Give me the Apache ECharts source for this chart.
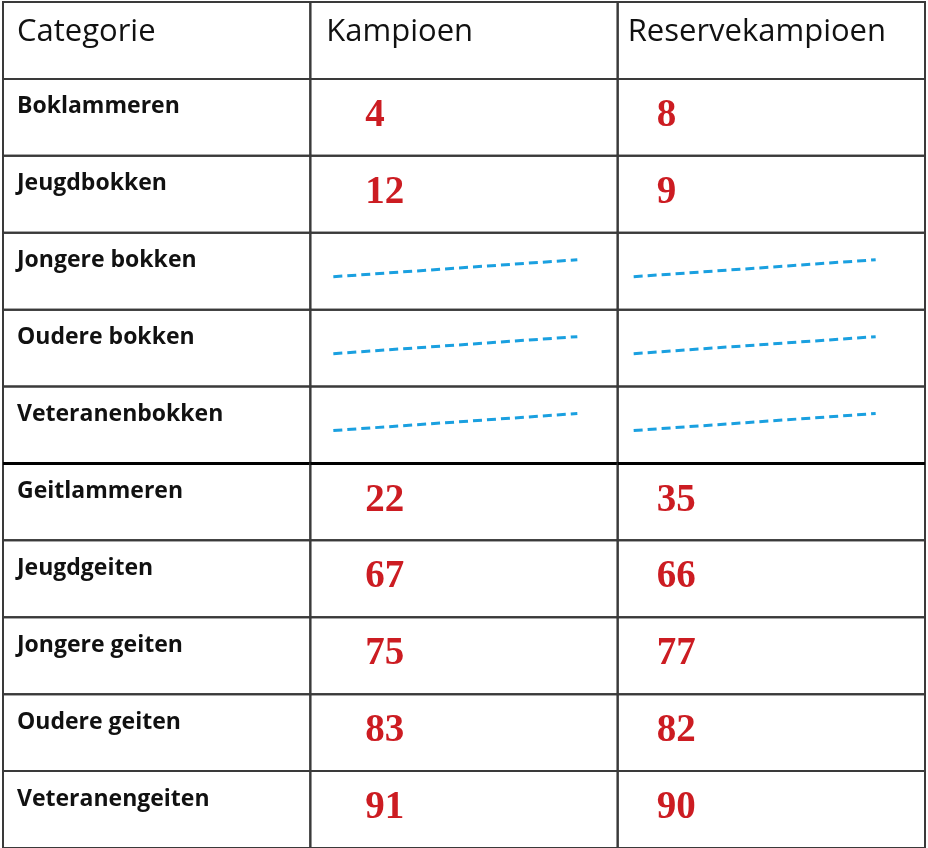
<!DOCTYPE html>
<html>
<head>
<meta charset="utf-8">
<script src="https://cdn.jsdelivr.net/npm/echarts@6/dist/echarts.min.js"></script>
<style>
html, body { margin: 0; padding: 0; background: #fff; }
#chart { width: 928px; height: 848px; }
</style>
</head>
<body>
<div id="chart"></div>
<script>
const columns = ['Categorie', 'Kampioen', 'Reservekampioen']
const categories = ['Boklammeren', 'Jeugdbokken', 'Jongere bokken', 'Oudere bokken', 'Veteranenbokken',
  'Geitlammeren', 'Jeugdgeiten', 'Jongere geiten', 'Oudere geiten', 'Veteranengeiten']
// null = niet toegekend (blauwe streeplijn)
const kampioen = [4, 12, null, null, null, 22, 67, 75, 83, 91]
const reservekampioen = [8, 9, null, null, null, 35, 66, 77, 82, 90]

const cells = []
columns.forEach((name, col) => cells.push({ col: col, row: 0, kind: 'head', text: name }))
categories.forEach((name, i) => {
  cells.push({ col: 0, row: i + 1, kind: 'label', text: name })
  cells.push({ col: 1, row: i + 1, kind: 'value', value: kampioen[i] })
  cells.push({ col: 2, row: i + 1, kind: 'value', value: reservekampioen[i] })
})

// per column: text inset for header, numbers, dash start/end
const headPad = [14, 16, 10]
const numPad = [0, 55, 39]
const dashFrom = [0, 23, 16]
const dashTo = [0, 267, 258]

function renderItem (params, api) {
  const cell = cells[params.dataIndex]
  const c = api.coord([api.value(0), api.value(1)])
  const s = api.size([1, 1])
  const x0 = c[0] - s[0] / 2
  const y0 = c[1] - s[1] / 2
  const children = [{
    type: 'rect',
    shape: { x: x0, y: y0, width: s[0], height: s[1] },
    style: { fill: 'none', stroke: '#3a3a3a', lineWidth: 2 }
  }]
  if (cell.row === 6) {
    // dikke scheidingslijn tussen bokken en geiten
    children.push({
      type: 'line',
      shape: { x1: x0, y1: y0, x2: x0 + s[0], y2: y0 },
      style: { stroke: '#000', lineWidth: 3 }
    })
  }
  if (cell.kind === 'head') {
    children.push({
      type: 'text', x: x0 + headPad[cell.col], y: y0 + 30,
      style: { text: cell.text, fill: '#111', font: '31px "Open Sans"', verticalAlign: 'middle' }
    })
  } else if (cell.kind === 'label') {
    children.push({
      type: 'text', x: x0 + 14, y: y0 + 28,
      style: { text: cell.text, fill: '#111', font: 'bold 23px "Open Sans"', verticalAlign: 'middle' }
    })
  } else if (cell.value == null) {
    children.push({
      type: 'line',
      shape: { x1: x0 + dashFrom[cell.col], y1: y0 + 44, x2: x0 + dashTo[cell.col], y2: y0 + 27 },
      style: { stroke: '#1aa0e0', lineWidth: 3, lineDash: [9, 5] }
    })
  } else {
    children.push({
      type: 'text', x: x0 + numPad[cell.col], y: y0 + 37,
      style: { text: String(cell.value), fill: '#cc1c22', font: 'bold 39px "Liberation Serif"', verticalAlign: 'middle' }
    })
  }
  return { type: 'group', children: children }
}

const chart = echarts.init(document.getElementById('chart'))
chart.setOption({
  animation: false,
  grid: { left: 3, right: 3, top: 2, height: 849 },
  xAxis: { type: 'category', data: columns, show: false },
  yAxis: { type: 'category', data: ['kop'].concat(categories), inverse: true, show: false },
  series: [{
    type: 'custom',
    renderItem: renderItem,
    data: cells.map(c => [c.col, c.row])
  }]
})
</script>
</body>
</html>
